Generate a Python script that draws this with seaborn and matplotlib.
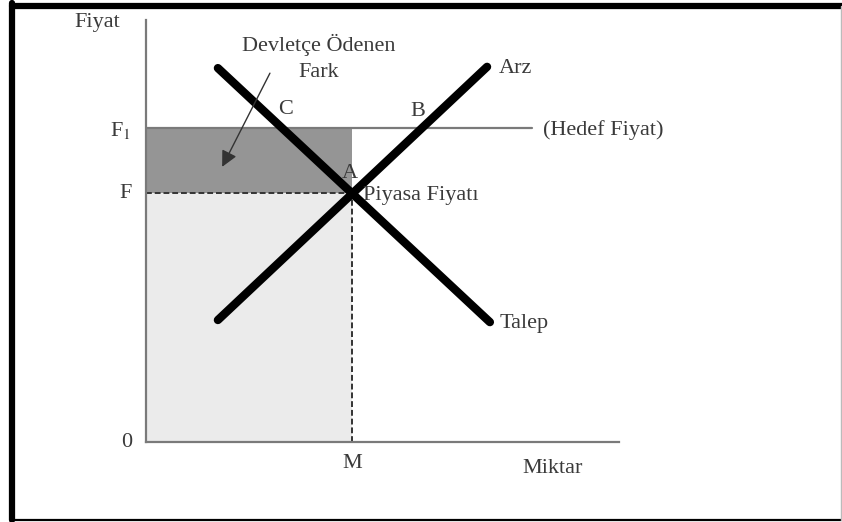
import seaborn as sns
import matplotlib.pyplot as plt
from matplotlib.lines import Line2D

# values (arbitrary 0-10 units on both axes)
arz_x = [1.52, 7.21]
arz_y = [2.89, 8.89]
talep_x = [1.52, 7.27]
talep_y = [8.86, 2.84]
piyasa_fiyati = 5.90   # F
hedef_fiyat = 7.44     # F1
miktar_m = 4.355       # M
hedef_end = 8.16

sns.set_style('white')
plt.rcParams['font.family'] = ['Liberation Serif', 'DejaVu Serif']
plt.rcParams['mathtext.fontset'] = 'stix'
txt = '#3a3a3a'
fs = 16

fig = plt.figure(figsize=(8.42, 5.22), dpi=100)
ax = fig.add_axes([0.1734, 0.1533, 0.5618, 0.8084])
ax.set_xlim(0, 10)
ax.set_ylim(0, 10)

# shaded areas
ax.fill_between([0, miktar_m], 0, piyasa_fiyati, color='#ebebeb', lw=0)
ax.fill_between([0, miktar_m], piyasa_fiyati, hedef_fiyat, color='#959595', lw=0)

# target price line and dashed guides
ax.plot([0, hedef_end], [hedef_fiyat, hedef_fiyat], color='#7a7a7a', lw=1.6)
ax.plot([0, miktar_m], [piyasa_fiyati, piyasa_fiyati], color='#333333', lw=1.4, ls=(0, (3, 1.5)))
ax.plot([miktar_m, miktar_m], [0, piyasa_fiyati], color='#333333', lw=1.4, ls=(0, (3, 1.5)))

# supply and demand
sns.lineplot(x=arz_x, y=arz_y, ax=ax, color='black', lw=6, solid_capstyle='round')
sns.lineplot(x=talep_x, y=talep_y, ax=ax, color='black', lw=6, solid_capstyle='round')

sns.despine(ax=ax)
for s in ['left', 'bottom']:
    ax.spines[s].set_color('#7a7a7a')
    ax.spines[s].set_linewidth(1.6)
ax.set_xticks([])
ax.set_yticks([])

# arrow
ax.annotate('', xy=(1.61, 6.52), xytext=(2.62, 8.74),
            arrowprops=dict(arrowstyle='-|>', color='#333333', lw=1.0,
                            mutation_scale=24, shrinkA=0, shrinkB=0))

kw = dict(color=txt, fontsize=fs, clip_on=False)
ax.text(-0.55, 9.95, 'Fiyat', ha='right', va='center', **kw)
ax.text(-0.32, 7.39, r'F$_{\rm 1}$', ha='right', va='center', **kw)
ax.text(-0.30, piyasa_fiyati, 'F', ha='right', va='center', **kw)
ax.text(-0.30, -0.02, '0', ha='right', va='center', **kw)
ax.text(miktar_m, -0.50, 'M', ha='center', va='center', **kw)
ax.text(8.6, -0.62, 'Miktar', ha='center', va='center', **kw)
ax.text(3.66, 9.42, 'Devletçe Ödenen', ha='center', va='center', **kw)
ax.text(3.64, 8.76, 'Fark', ha='center', va='center', **kw)
ax.text(2.96, 7.87, 'C', ha='center', va='center', **kw)
ax.text(5.75, 7.82, 'B', ha='center', va='center', **kw)
ax.text(4.31, 6.37, 'A', ha='center', va='center', **kw)
ax.text(4.59, 5.85, 'Piyasa Fiyatı', ha='left', va='center', **kw)
ax.text(7.46, 8.86, 'Arz', ha='left', va='center', **kw)
ax.text(7.48, 2.80, 'Talep', ha='left', va='center', **kw)
ax.text(8.39, 7.39, '(Hedef Fiyat)', ha='left', va='center', **kw)

# outer frame of the scanned figure
fig.add_artist(Line2D([11.5 / 842, 842 / 842], [1 - 6 / 522, 1 - 6 / 522], color='black', lw=4.5))
fig.add_artist(Line2D([11.5 / 842, 11.5 / 842], [1 - 3 / 522, 2 / 522], color='black', lw=4.5))
fig.add_artist(Line2D([11.5 / 842, 842 / 842], [2 / 522, 2 / 522], color='black', lw=1.6))
fig.add_artist(Line2D([841 / 842, 841 / 842], [1 - 6 / 522, 2 / 522], color='#bbbbbb', lw=1.0))

fig.savefig('out.png', dpi=100)
